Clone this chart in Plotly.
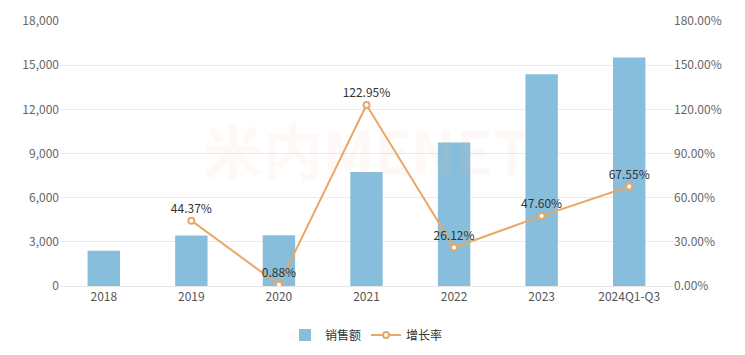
import plotly.graph_objects as go

categories = ["2018", "2019", "2020", "2021", "2022", "2023", "2024Q1-Q3"]
sales = [2390, 3430, 3450, 7750, 9750, 14380, 15520]
growth = [None, 0.4437, 0.0088, 1.2295, 0.2612, 0.4760, 0.6755]
growth_labels = ["", "44.37%", "0.88%", "122.95%", "26.12%", "47.60%", "67.55%"]

FONT = "Noto Sans CJK SC, Microsoft YaHei, sans-serif"

fig = go.Figure()
fig.add_trace(go.Bar(
    x=categories, y=sales, name="销售额",
    marker=dict(color="#86bedb", line=dict(width=0)),
    width=0.37,
))
fig.add_trace(go.Scatter(
    x=categories, y=growth, name="增长率", yaxis="y2",
    mode="lines+markers+text",
    text=growth_labels, textposition="top center",
    textfont=dict(size=12, color="#333333", family=FONT),
    line=dict(color="#e8a866", width=2),
    marker=dict(symbol="circle", size=6, color="white",
                line=dict(color="#e8a866", width=2)),
    connectgaps=False,
))

fig.add_annotation(
    x=0.5, y=0.52, xref="paper", yref="paper",
    text="<b>米内MENET</b>", showarrow=False,
    font=dict(size=60, color="rgba(245,200,170,0.10)", family=FONT),
)

fig.update_layout(
    width=745, height=355,
    margin=dict(l=60, r=72, t=21, b=69, autoexpand=False),
    paper_bgcolor="white", plot_bgcolor="white",
    font=dict(family=FONT, size=12, color="#666666"),
    xaxis=dict(
        type="category", showgrid=False,
        showline=True, linecolor="#e6e6e6", linewidth=1,
        ticks="", tickfont=dict(size=12, color="#555555"),
    ),
    yaxis=dict(
        range=[0, 18000], dtick=3000, tickformat=",",
        showgrid=True, gridcolor="#ebebeb", gridwidth=1,
        zeroline=False, showline=False,
        tickfont=dict(size=12, color="#666666"),
    ),
    yaxis2=dict(
        overlaying="y", side="right",
        range=[0, 1.8], dtick=0.3, tickformat=".2%",
        showgrid=False, zeroline=False, showline=False,
        tickfont=dict(size=12, color="#666666"),
    ),
    legend=dict(
        orientation="h", x=0.5, xanchor="center", y=-0.185, yanchor="middle",
        font=dict(size=12, color="#333333"),
        itemwidth=30,
    ),
    showlegend=True,
    bargap=0.6,
)

fig.write_html("out.html")
